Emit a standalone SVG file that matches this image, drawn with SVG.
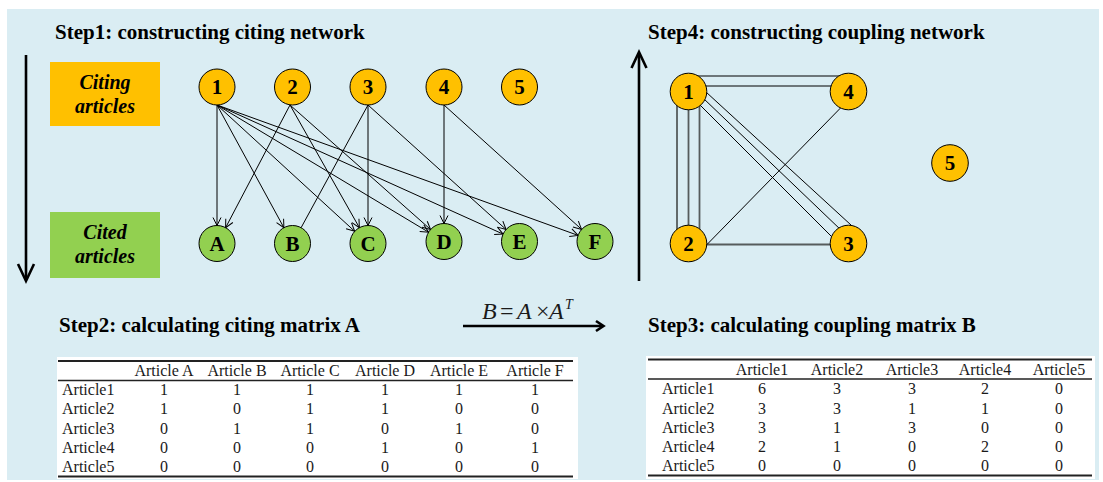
<svg xmlns="http://www.w3.org/2000/svg" width="1103" height="482" viewBox="0 0 1103 482">
<defs>
<marker id="ah" markerUnits="userSpaceOnUse" markerWidth="12" markerHeight="12" refX="9" refY="5" orient="auto" viewBox="0 0 12 12">
<path d="M1,1 L9,5 L1,9" fill="none" stroke="#000" stroke-width="1"/>
</marker>
</defs>
<style>
.bg{fill:#DAEDF3}
.step{font-family:"Liberation Serif","Times New Roman",serif;font-weight:bold;font-size:21px;fill:#000}
.box{font-family:"Liberation Serif","Times New Roman",serif;font-weight:bold;font-style:italic;font-size:20px;text-anchor:middle;fill:#000}
.nl{font-family:"Liberation Serif","Times New Roman",serif;font-weight:bold;font-size:21px;text-anchor:middle;fill:#000}
.or{fill:#FFC000;stroke:#000;stroke-width:1}
.gr{fill:#92D050;stroke:#000;stroke-width:1}
.e{stroke:#000;stroke-width:1;fill:none}
.eg{stroke:#565C5C;stroke-width:1.8;fill:none}
.big{stroke:#000;stroke-width:2.6;fill:none}
.tb{font-family:"Liberation Serif","Times New Roman",serif;font-size:16px;fill:#1a1a1a}
.fm{font-family:"Liberation Serif","Times New Roman",serif;font-size:24px;fill:#1a1a1a}
.c{text-anchor:middle}
.rule{stroke:#222;fill:none}
</style>
<rect class="bg" x="7" y="9" width="1092" height="471"/>

<text class="step" x="55" y="39">Step1: constructing citing network</text>
<text class="step" x="648" y="39">Step4: constructing coupling network</text>
<text class="step" x="59" y="332">Step2: calculating citing matrix A</text>
<text class="step" x="648" y="332">Step3: calculating coupling matrix B</text>

<!-- big arrows -->
<g id="flow-arrows">
<line class="big" x1="26" y1="55" x2="26" y2="280"/>
<polyline class="big" points="18,264 26,281 34,264"/>
<line class="big" x1="639" y1="281" x2="639" y2="53"/>
<polyline class="big" points="631.5,68 639,52 646.5,68"/>
<line class="big" x1="463" y1="326" x2="602" y2="326"/>
<polyline class="big" points="596,321 603.5,326 596,331"/>
</g>

<!-- formula -->
<g id="formula" class="fm">
<text x="482" y="319" font-style="italic">B</text>
<text x="500" y="319">=</text>
<text x="517" y="319" font-style="italic">A</text>
<text x="536" y="319">×</text>
<text x="549" y="319" font-style="italic">A</text>
<text x="565" y="309" font-size="14" font-style="italic">T</text>
</g>

<!-- side boxes -->
<g id="citing-box">
<rect x="50" y="62" width="110" height="64" fill="#FFC000"/>
<text class="box" x="105" y="89">Citing</text>
<text class="box" x="105" y="113">articles</text>
</g>
<g id="cited-box">
<rect x="50" y="212" width="110" height="66" fill="#92D050"/>
<text class="box" x="105" y="239">Cited</text>
<text class="box" x="105" y="263">articles</text>
</g>

<!-- citing network connectors -->
<g id="citing-edges" class="e">
<line x1="217" y1="105" x2="217" y2="225.5" marker-end="url(#ah)"/>
<line x1="217" y1="105" x2="283.9" y2="227.7" marker-end="url(#ah)"/>
<line x1="217" y1="105" x2="354.7" y2="231.3" marker-end="url(#ah)"/>
<line x1="217" y1="105" x2="428.6" y2="232.2" marker-end="url(#ah)"/>
<line x1="217" y1="105" x2="503.1" y2="234.1" marker-end="url(#ah)"/>
<line x1="217" y1="105" x2="578.1" y2="235.4" marker-end="url(#ah)"/>
<line x1="290" y1="105" x2="225.6" y2="227.7" marker-end="url(#ah)"/>
<line x1="290" y1="105" x2="359.4" y2="227.7" marker-end="url(#ah)"/>
<line x1="290" y1="105" x2="430.6" y2="229.5" marker-end="url(#ah)"/>
<line x1="368" y1="105" x2="301.1" y2="227.7"/>
<line x1="368" y1="105" x2="368" y2="225.5" marker-end="url(#ah)"/>
<line x1="368" y1="105" x2="506.1" y2="229.5" marker-end="url(#ah)"/>
<line x1="444" y1="105" x2="444" y2="223.5" marker-end="url(#ah)"/>
<line x1="444" y1="105" x2="581.6" y2="229.4" marker-end="url(#ah)"/>
</g>

<!-- citing network nodes -->
<g id="n1"><circle class="or" cx="217" cy="87" r="18"/><text class="nl" x="217" y="94">1</text></g>
<g id="n2"><circle class="or" cx="292.5" cy="87" r="18"/><text class="nl" x="292.5" y="94">2</text></g>
<g id="n3"><circle class="or" cx="368" cy="87" r="18"/><text class="nl" x="368" y="94">3</text></g>
<g id="n4"><circle class="or" cx="444" cy="87" r="18"/><text class="nl" x="444" y="94">4</text></g>
<g id="n5"><circle class="or" cx="519.5" cy="87" r="18"/><text class="nl" x="519.5" y="94">5</text></g>
<g id="nA"><circle class="gr" cx="217" cy="243.5" r="18"/><text class="nl" x="217" y="250.5">A</text></g>
<g id="nB"><circle class="gr" cx="292.5" cy="243.5" r="18"/><text class="nl" x="292.5" y="250.5">B</text></g>
<g id="nC"><circle class="gr" cx="368" cy="243.5" r="18"/><text class="nl" x="368" y="250.5">C</text></g>
<g id="nD"><circle class="gr" cx="444" cy="241.5" r="18"/><text class="nl" x="444" y="248.5">D</text></g>
<g id="nE"><circle class="gr" cx="519.5" cy="241.5" r="18"/><text class="nl" x="519.5" y="248.5">E</text></g>
<g id="nF"><circle class="gr" cx="595" cy="241.5" r="18"/><text class="nl" x="595" y="248.5">F</text></g>

<!-- coupling network connectors -->
<g id="coupling-edges">
<line class="e" x1="688" y1="76" x2="848" y2="76" stroke-width="1.3"/>
<line class="e" x1="688" y1="86" x2="848" y2="86" stroke-width="1.3"/>
<line class="eg" x1="677" y1="92" x2="677" y2="243"/>
<line class="eg" x1="688.5" y1="92" x2="688.5" y2="243"/>
<line class="eg" x1="699.5" y1="92" x2="699.5" y2="243"/>
<line class="e" x1="699" y1="104" x2="833" y2="238"/>
<line class="e" x1="703" y1="98" x2="842" y2="231"/>
<line class="e" x1="706" y1="92" x2="851" y2="225"/>
<line class="eg" x1="688" y1="244.5" x2="848" y2="244.5"/>
<line class="e" x1="707" y1="244.5" x2="840.5" y2="108"/>
</g>

<!-- coupling network nodes -->
<g id="c1"><circle class="or" cx="688.5" cy="91.5" r="18.3"/><text class="nl" x="688.5" y="98.5">1</text></g>
<g id="c4"><circle class="or" cx="848.5" cy="91.5" r="18.3"/><text class="nl" x="848.5" y="98.5">4</text></g>
<g id="c2"><circle class="or" cx="688.5" cy="243.5" r="18.3"/><text class="nl" x="688.5" y="250.5">2</text></g>
<g id="c3"><circle class="or" cx="848.5" cy="243.5" r="18.3"/><text class="nl" x="848.5" y="250.5">3</text></g>
<g id="c5"><circle class="or" cx="950" cy="163" r="18.3"/><text class="nl" x="950" y="170">5</text></g>

<!-- Table A -->
<g id="tableA" class="tb">
<rect x="57" y="357" width="521" height="122" fill="#fff"/>
<line class="rule" x1="58" y1="361" x2="573" y2="361" stroke-width="2.2"/>
<line class="rule" x1="58" y1="380.5" x2="573" y2="380.5" stroke-width="1.6"/>
<line class="rule" x1="58" y1="476.5" x2="573" y2="476.5" stroke-width="2.2"/>
<g class="c">
<text x="164" y="376">Article A</text><text x="237" y="376">Article B</text><text x="310" y="376">Article C</text><text x="385" y="376">Article D</text><text x="459" y="376">Article E</text><text x="535" y="376">Article F</text>
<text x="164" y="395">1</text><text x="237" y="395">1</text><text x="310" y="395">1</text><text x="385" y="395">1</text><text x="459" y="395">1</text><text x="535" y="395">1</text>
<text x="164" y="414">1</text><text x="237" y="414">0</text><text x="310" y="414">1</text><text x="385" y="414">1</text><text x="459" y="414">0</text><text x="535" y="414">0</text>
<text x="164" y="433.5">0</text><text x="237" y="433.5">1</text><text x="310" y="433.5">1</text><text x="385" y="433.5">0</text><text x="459" y="433.5">1</text><text x="535" y="433.5">0</text>
<text x="164" y="453">0</text><text x="237" y="453">0</text><text x="310" y="453">0</text><text x="385" y="453">1</text><text x="459" y="453">0</text><text x="535" y="453">1</text>
<text x="164" y="472">0</text><text x="237" y="472">0</text><text x="310" y="472">0</text><text x="385" y="472">0</text><text x="459" y="472">0</text><text x="535" y="472">0</text>
</g>
<text x="62" y="395">Article1</text>
<text x="62" y="414">Article2</text>
<text x="62" y="433.5">Article3</text>
<text x="62" y="453">Article4</text>
<text x="62" y="472">Article5</text>
</g>

<!-- Table B -->
<g id="tableB" class="tb">
<rect x="646" y="356" width="449" height="123" fill="#fff"/>
<line class="rule" x1="648" y1="359.5" x2="1092" y2="359.5" stroke-width="2.2"/>
<line class="rule" x1="648" y1="379" x2="1092" y2="379" stroke-width="1.6"/>
<line class="rule" x1="648" y1="475.5" x2="1092" y2="475.5" stroke-width="2.2"/>
<g class="c">
<text x="762" y="374.5">Article1</text><text x="837" y="374.5">Article2</text><text x="912" y="374.5">Article3</text><text x="985" y="374.5">Article4</text><text x="1059" y="374.5">Article5</text>
<text x="762" y="394">6</text><text x="837" y="394">3</text><text x="912" y="394">3</text><text x="985" y="394">2</text><text x="1059" y="394">0</text>
<text x="762" y="413.5">3</text><text x="837" y="413.5">3</text><text x="912" y="413.5">1</text><text x="985" y="413.5">1</text><text x="1059" y="413.5">0</text>
<text x="762" y="433">3</text><text x="837" y="433">1</text><text x="912" y="433">3</text><text x="985" y="433">0</text><text x="1059" y="433">0</text>
<text x="762" y="452">2</text><text x="837" y="452">1</text><text x="912" y="452">0</text><text x="985" y="452">2</text><text x="1059" y="452">0</text>
<text x="762" y="471">0</text><text x="837" y="471">0</text><text x="912" y="471">0</text><text x="985" y="471">0</text><text x="1059" y="471">0</text>
</g>
<text x="662" y="394">Article1</text>
<text x="662" y="413.5">Article2</text>
<text x="662" y="433">Article3</text>
<text x="662" y="452">Article4</text>
<text x="662" y="471">Article5</text>
</g>
</svg>
